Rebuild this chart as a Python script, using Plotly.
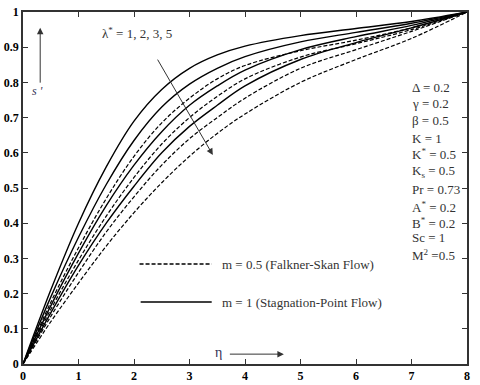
import plotly.graph_objects as go

# eta grid and digitised s' profiles
eta = [0, 0.5, 1, 1.5, 2, 2.5, 3, 3.5, 4, 5, 6, 7, 8]

# m = 1 (Stagnation-Point Flow), lambda* = 1, 2, 3, 5
solid_l1 = [0, 0.21, 0.40, 0.56, 0.69, 0.78, 0.84, 0.878, 0.903, 0.933, 0.953, 0.973, 1.0]
solid_l2 = [0, 0.19, 0.36, 0.51, 0.635, 0.73, 0.795, 0.84, 0.873, 0.915, 0.942, 0.968, 1.0]
solid_l3 = [0, 0.165, 0.315, 0.45, 0.565, 0.66, 0.735, 0.79, 0.835, 0.893, 0.93, 0.962, 1.0]
solid_l5 = [0, 0.145, 0.28, 0.40, 0.505, 0.60, 0.675, 0.735, 0.79, 0.865, 0.913, 0.955, 1.0]

# m = 0.5 (Falkner-Skan Flow), lambda* = 1, 2, 3, 5
dash_l1 = [0, 0.175, 0.33, 0.47, 0.59, 0.685, 0.755, 0.81, 0.848, 0.89, 0.92, 0.955, 1.0]
dash_l2 = [0, 0.155, 0.295, 0.42, 0.53, 0.625, 0.70, 0.76, 0.81, 0.872, 0.91, 0.95, 1.0]
dash_l3 = [0, 0.135, 0.26, 0.375, 0.475, 0.565, 0.64, 0.70, 0.755, 0.84, 0.893, 0.945, 1.0]
dash_l5 = [0, 0.12, 0.23, 0.335, 0.43, 0.515, 0.59, 0.655, 0.71, 0.80, 0.865, 0.925, 1.0]

x_ticks = [0, 1, 2, 3, 4, 5, 6, 7, 8]
y_ticks = [0, 0.1, 0.2, 0.3, 0.4, 0.5, 0.6, 0.7, 0.8, 0.9, 1]
y_tick_text = ["0", "0.1", "0.2", "0.3", "0.4", "0.5", "0.6", "0.7", "0.8", "0.9", "1"]

params = ["Δ = 0.2", "γ = 0.2", "β = 0.5", "K = 1", "K<sup>*</sup> = 0.5",
          "K<sub>s</sub> = 0.5", "Pr = 0.73", "A<sup>*</sup> = 0.2",
          "B<sup>*</sup> = 0.2", "Sc = 1", "M<sup>2</sup> =0.5"]

fig = go.Figure()
for ys in [solid_l1, solid_l2, solid_l3, solid_l5]:
    fig.add_trace(go.Scatter(x=eta, y=ys, mode="lines", line_shape="spline",
                             line=dict(color="black", width=1.4), showlegend=False))
for ys in [dash_l1, dash_l2, dash_l3, dash_l5]:
    fig.add_trace(go.Scatter(x=eta, y=ys, mode="lines", line_shape="spline",
                             line=dict(color="black", width=1.2, dash="4px,2px"),
                             showlegend=False))

serif = "Liberation Serif"
anns = []
# lambda* label and arrow
anns.append(dict(x=2.05, y=0.94, text="λ<sup>*</sup> = 1, 2, 3, 5", showarrow=False,
                 font=dict(family=serif, size=13, color="#333")))
anns.append(dict(x=3.42, y=0.594, ax=2.41, ay=0.869, axref="x", ayref="y",
                 text="", showarrow=True, arrowhead=2, arrowsize=1.3, arrowwidth=1,
                 arrowcolor="#333"))
# s' arrow
anns.append(dict(x=0.31, y=0.955, ax=0.31, ay=0.795, axref="x", ayref="y",
                 text="", showarrow=True, arrowhead=2, arrowsize=1.3, arrowwidth=1,
                 arrowcolor="#333"))
anns.append(dict(x=0.27, y=0.775, text="<i>s '</i>", showarrow=False,
                 font=dict(family=serif, size=12, color="#335")))
# eta arrow
anns.append(dict(x=4.7, y=0.028, ax=3.7, ay=0.028, axref="x", ayref="y",
                 text="", showarrow=True, arrowhead=2, arrowsize=1.3, arrowwidth=1,
                 arrowcolor="#333"))
anns.append(dict(x=3.52, y=0.032, text="η", showarrow=False,
                 font=dict(family=serif, size=14, color="#335")))
# legend texts
anns.append(dict(x=3.55, y=0.284, xanchor="left", text="m = 0.5 (Falkner-Skan Flow)",
                 showarrow=False, font=dict(family=serif, size=13, color="#333")))
anns.append(dict(x=3.55, y=0.176, xanchor="left", text="m = 1 (Stagnation-Point Flow)",
                 showarrow=False, font=dict(family=serif, size=13, color="#333")))
# parameter block
py = [0.785, 0.74, 0.693, 0.642, 0.597, 0.548, 0.495, 0.447, 0.40, 0.36, 0.31]
for t, yv in zip(params, py):
    anns.append(dict(x=6.97, y=yv, xanchor="left", text=t, showarrow=False,
                     font=dict(family=serif, size=13, color="#333")))

shapes = [
    dict(type="line", xref="x", yref="y", x0=2.1, x1=3.4, y0=0.284, y1=0.284,
         line=dict(color="black", width=1.4, dash="4px,2px")),
    dict(type="line", xref="x", yref="y", x0=2.12, x1=3.4, y0=0.176, y1=0.176,
         line=dict(color="black", width=1.6)),
]

axis_common = dict(showline=True, linecolor="#333", linewidth=1.5, mirror="ticks",
                   ticks="inside", ticklen=5, tickcolor="#333", showgrid=False,
                   zeroline=False, automargin=False,
                   tickfont=dict(family=serif, size=12, color="black", weight="bold"))

fig.update_layout(
    width=480, height=385,
    margin=dict(l=23, r=13, t=12, b=21),
    plot_bgcolor="white", paper_bgcolor="white",
    annotations=anns, shapes=shapes,
    xaxis=dict(range=[0, 8], tickvals=x_ticks, **axis_common),
    yaxis=dict(range=[0, 1], tickvals=y_ticks, ticktext=y_tick_text, **axis_common),
)

# drop the default body margin so the figure fills the window
fig.write_html("out.html", config={"displayModeBar": False},
               post_script="document.body.style.margin='0';")
